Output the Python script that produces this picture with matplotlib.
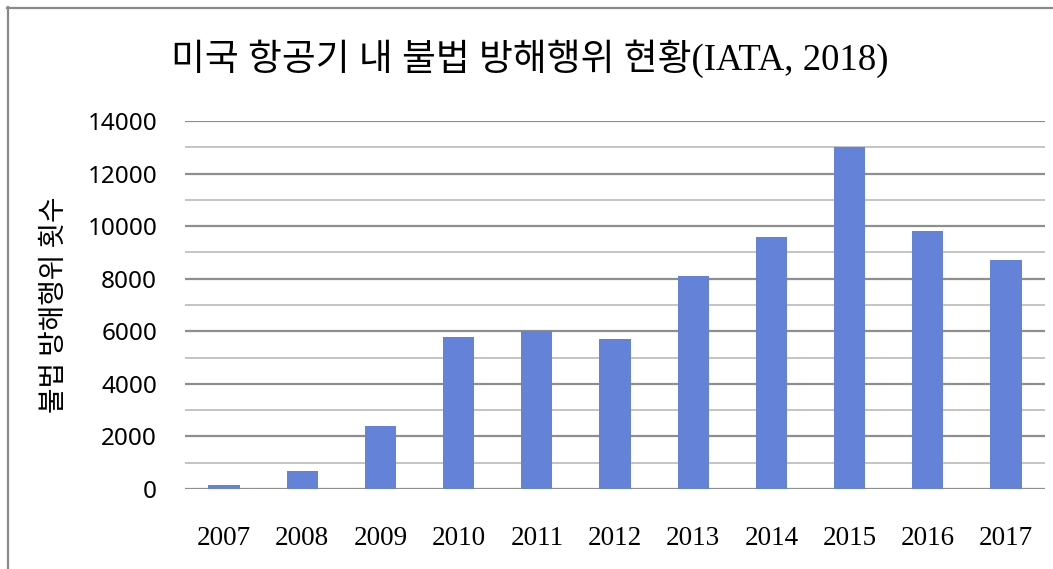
import numpy as np
import matplotlib.pyplot as plt
from matplotlib.lines import Line2D

# data
years = ['2007', '2008', '2009', '2010', '2011', '2012',
         '2013', '2014', '2015', '2016', '2017']
incidents = [150, 690, 2400, 5780, 6010, 5700, 8100, 9580, 13000, 9810, 8700]
y_ticks = [0, 2000, 4000, 6000, 8000, 10000, 12000, 14000]

title = '미국 항공기 내 불법 방해행위 현황(IATA, 2018)'
y_label = '불법 방해행위 횟수'

bar_color = '#6482D8'
major_grid = '#8E8E8E'
minor_grid = '#C4C4C4'

def main():
    fig = plt.figure(figsize=(10.53, 5.69), dpi=100)
    ax = fig.add_axes([0.1757, 0.1406, 0.8167, 0.6467])

    x = np.arange(len(years))
    ax.bar(x, incidents, width=0.4, color=bar_color, zorder=3)

    ax.set_xlim(-0.5, len(years) - 0.5)
    ax.set_ylim(0, 14000)

    # horizontal gridlines: darker at every 2000, lighter in between
    for v in range(0, 14001, 1000):
        if v % 2000 == 0:
            ax.axhline(v, color=major_grid, lw=1.6, zorder=1)
        else:
            ax.axhline(v, color=minor_grid, lw=1.4, zorder=1)

    for s in ax.spines.values():
        s.set_visible(False)

    ax.set_xticks(x)
    ax.set_xticklabels(years, family=['Liberation Serif'], fontsize=19.5)
    ax.set_yticks(y_ticks)
    ax.set_yticklabels([str(v) for v in y_ticks],
                       family=['Noto Sans', 'DejaVu Sans'], fontsize=17.5)
    ax.tick_params(axis='x', length=0, pad=27)
    ax.tick_params(axis='y', length=0, pad=20)

    ax.set_ylabel(y_label, family=['Noto Sans CJK KR', 'DejaVu Sans'],
                  fontsize=20, fontweight='light')
    ax.yaxis.set_label_coords(-0.135, 0.5)

    fig.text(0.503, 0.897, title, ha='center', va='center',
             family=['Liberation Serif', 'Noto Sans CJK KR'], fontsize=26.5,
             fontweight='light')

    # chart-area border (only top and left visible in the crop)
    fig.add_artist(Line2D([7 / 1053, 1], [1 - 7.5 / 569, 1 - 7.5 / 569],
                          color='#8A8A8A', lw=1.6))
    fig.add_artist(Line2D([7.5 / 1053, 7.5 / 1053], [0, 1 - 7 / 569],
                          color='#8A8A8A', lw=1.6))

    fig.savefig('out.png', dpi=100)

if __name__ == '__main__':
    main()
